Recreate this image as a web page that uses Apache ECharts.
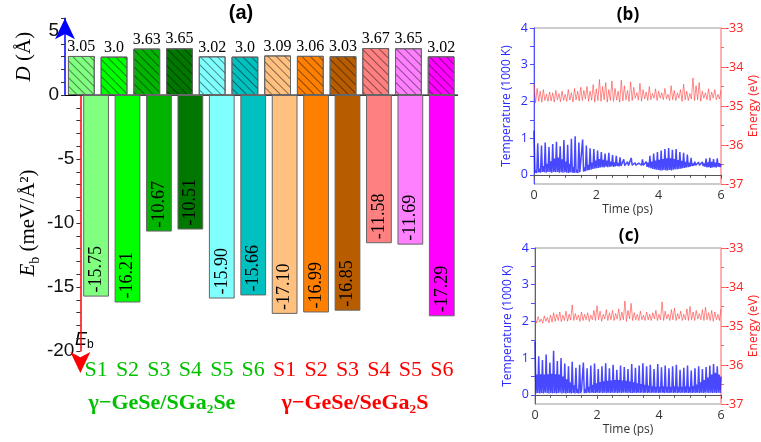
<!DOCTYPE html>
<html><head><meta charset="utf-8">
<script src="https://cdn.jsdelivr.net/npm/echarts@6/dist/echarts.min.js"></script>
<style>html,body{margin:0;padding:0;background:#fff}#c{width:761px;height:442px}</style>
</head><body><div id="c"></div>
<script>
// ---------- data ----------
const SAMPLES = ['S1','S2','S3','S4','S5','S6'];
const GROUPS = ['γ−GeSe/SGa₂Se','γ−GeSe/SeGa₂S'];
const GROUP_COLORS = ['#00c000','#ff0000'];
const D_VALUES = [3.05,3.0,3.63,3.65,3.02,3.0,3.09,3.06,3.03,3.67,3.65,3.02];
const EB_VALUES = [-15.75,-16.21,-10.67,-10.51,-15.90,-15.66,-17.10,-16.99,-16.85,-11.58,-11.69,-17.29];
const BAR_COLORS = ['#80ff80','#00ff00','#00b400','#007800','#80ffff','#00c0c0','#ffc080','#ff8000','#b85c00','#ff8080','#ff80ff','#ff00ff'];
const D_TICKS = [0,5];
const EB_TICKS = [-5,-10,-15,-20];
const TEMP_DT = 0.03; // ps between temperature samples
const ENER_DT = 0.05; // ps between energy samples
const TEMP_B = [
 1.20,0.06,0.12,0.05,0.86,0.07,0.17,0.06, 0.80,0.08,0.24,0.07,0.88,0.06,0.30,0.08,
 0.76,0.07,0.37,0.06,0.84,0.08,0.44,0.07, 0.90,0.08,0.47,0.06,0.78,0.07,0.42,0.06,
 0.95,0.07,0.36,0.06,0.82,0.05,0.30,0.07, 0.98,0.06,0.22,0.05,1.05,0.06,0.14,0.05,
 0.88,0.07,0.12,0.08,0.96,0.09,0.20,0.10, 0.80,0.12,0.27,0.13,0.72,0.14,0.33,0.16,
 0.70,0.17,0.39,0.18,0.66,0.19,0.43,0.20, 0.62,0.21,0.41,0.20,0.58,0.22,0.39,0.21,
 0.60,0.22,0.36,0.23,0.54,0.22,0.34,0.23, 0.52,0.24,0.32,0.23,0.48,0.24,0.30,0.25,
 0.42,0.25,0.29,0.26,0.36,0.25,0.30,0.26, 0.46,0.26,0.30,0.27,0.33,0.26,0.29,0.27,
 0.32,0.27,0.30,0.26,0.42,0.26,0.31,0.25, 0.36,0.22,0.33,0.20,0.52,0.18,0.36,0.16,
 0.58,0.15,0.39,0.14,0.62,0.13,0.41,0.12, 0.66,0.12,0.43,0.13,0.70,0.12,0.45,0.12,
 0.73,0.13,0.45,0.12,0.68,0.14,0.43,0.15, 0.70,0.15,0.40,0.16,0.62,0.17,0.38,0.18,
 0.60,0.19,0.35,0.20,0.55,0.21,0.33,0.22, 0.46,0.24,0.31,0.25,0.36,0.26,0.30,0.26,
 0.34,0.26,0.30,0.25,0.35,0.24,0.31,0.22, 0.44,0.20,0.34,0.21,0.46,0.19,0.35,0.20,
 0.43,0.21,0.33,0.20,0.45,0.22,0.32,0.21, 0.30];
const TEMP_C = [
 1.45,0.04,0.55,0.05,1.05,0.04,0.56,0.05, 0.95,0.04,0.55,0.06,1.10,0.05,0.56,0.04,
 0.88,0.05,0.57,0.04,1.20,0.05,0.56,0.04, 0.92,0.05,0.55,0.06,1.00,0.04,0.50,0.05,
 0.85,0.04,0.42,0.05,0.78,0.05,0.34,0.04, 0.90,0.05,0.26,0.04,0.74,0.05,0.16,0.04,
 0.82,0.05,0.11,0.06,0.88,0.05,0.16,0.05, 0.72,0.06,0.22,0.05,0.80,0.06,0.27,0.05,
 0.85,0.05,0.31,0.06,0.70,0.05,0.35,0.06, 0.78,0.05,0.37,0.06,0.86,0.05,0.38,0.06,
 0.72,0.05,0.39,0.06,0.82,0.05,0.40,0.06, 0.68,0.05,0.40,0.06,0.80,0.05,0.39,0.06,
 0.76,0.06,0.38,0.05,0.70,0.06,0.36,0.05, 0.84,0.05,0.34,0.06,0.74,0.05,0.31,0.06,
 0.80,0.05,0.29,0.06,0.86,0.05,0.27,0.06, 0.78,0.05,0.25,0.06,0.82,0.05,0.23,0.06,
 0.70,0.05,0.22,0.06,0.84,0.05,0.22,0.06, 0.75,0.06,0.23,0.05,0.80,0.06,0.22,0.05,
 0.72,0.05,0.22,0.06,0.78,0.05,0.23,0.06, 0.82,0.05,0.22,0.06,0.68,0.05,0.22,0.06,
 0.74,0.05,0.23,0.06,0.80,0.05,0.22,0.06, 0.66,0.05,0.24,0.06,0.72,0.05,0.28,0.06,
 0.78,0.05,0.34,0.06,0.70,0.05,0.40,0.06, 0.76,0.06,0.47,0.05,0.80,0.06,0.55,0.05,
 0.84,0.06,0.60,0.05,0.78,0.06,0.55,0.05, 0.50];
const ENER_B = [
 -34.42,-34.92,-34.55,-34.88,-34.62,-34.90,-34.58,-34.86,-34.70,-34.88,-34.64,
 -34.87,-34.66,-34.90,-34.60,-34.84,-34.68,-34.89,-34.62,-34.86,-34.70,
 -34.88,-34.58,-34.85,-34.66,-34.90,-34.55,-34.84,-34.62,-34.87,-34.52,
 -34.86,-34.60,-34.82,-34.50,-34.88,-34.62,-34.85,-34.45,-34.90,-34.56,
 -34.86,-34.32,-34.88,-34.50,-34.84,-34.40,-34.90,-34.58,-34.86,-34.36,
 -34.88,-34.55,-34.85,-34.62,-34.90,-34.34,-34.87,-34.48,-34.84,-34.60,
 -34.88,-34.38,-34.86,-34.52,-34.80,-34.66,-34.85,-34.42,-34.88,-34.58,
 -34.82,-34.64,-34.86,-34.50,-34.84,-34.68,-34.80,-34.56,-34.86,-34.62,
 -34.80,-34.66,-34.84,-34.55,-34.82,-34.70,-34.86,-34.48,-34.84,-34.60,
 -34.86,-34.66,-34.80,-34.58,-34.88,-34.44,-34.84,-34.62,-34.86,-34.68,
 -34.82,-34.28,-34.86,-34.48,-34.84,-34.40,-34.88,-34.62,-34.80,-34.66,
 -34.84,-34.56,-34.86,-34.64,-34.80,-34.58,-34.84,-34.70,-34.82,-34.60];
const ENER_C = [
 -34.80,-34.92,-34.76,-34.90,-34.82,-34.93,-34.74,-34.88,-34.78,-34.92,-34.72,
 -34.90,-34.66,-34.88,-34.70,-34.86,-34.64,-34.89,-34.72,-34.86,-34.62,
 -34.88,-34.70,-34.85,-34.46,-34.86,-34.68,-34.84,-34.72,-34.88,-34.64,
 -34.86,-34.70,-34.84,-34.66,-34.88,-34.72,-34.84,-34.60,-34.86,-34.48,
 -34.84,-34.62,-34.88,-34.70,-34.82,-34.58,-34.86,-34.66,-34.84,-34.60,
 -34.86,-34.68,-34.82,-34.56,-34.86,-34.64,-34.84,-34.36,-34.88,-34.60,
 -34.82,-34.42,-34.86,-34.66,-34.84,-34.70,-34.86,-34.62,-34.84,-34.72,
 -34.86,-34.64,-34.84,-34.70,-34.86,-34.66,-34.82,-34.60,-34.86,-34.70,
 -34.84,-34.38,-34.86,-34.62,-34.82,-34.70,-34.86,-34.58,-34.84,-34.54,
 -34.86,-34.68,-34.82,-34.62,-34.86,-34.70,-34.84,-34.56,-34.86,-34.50,
 -34.84,-34.64,-34.86,-34.60,-34.82,-34.68,-34.84,-34.58,-34.86,-34.52,
 -34.84,-34.66,-34.86,-34.60,-34.88,-34.64,-34.84,-34.70,-34.86,-34.56];
const TEMP_TICKS = [0,1,2,3,4];
const TEMP_MINOR = [0,0.5,1,1.5,2,2.5,3,3.5,4];

// ---------- build ----------
const CATS = [];
GROUPS.forEach((g, gi) => SAMPLES.forEach(s => CATS.push(gi + ':' + s)));
const SANS = 'Liberation Sans', SERIF = 'Liberation Serif', OS = 'Open Sans';
const fmtD = v => (Math.round(v * 100) % 10 === 0 ? v.toFixed(1) : v.toFixed(2));
const hatch = {symbol:'rect', symbolSize:1, dashArrayX:[1,0], dashArrayY:[1,4.5], rotation:Math.PI/4, color:'rgba(0,0,0,0.45)'};

function mdAxes(gi) {
  return {
    x: {type:'value', gridIndex:gi, min:0, max:6, interval:2,
        axisLine:{show:true, lineStyle:{color:'#555', width:1}},
        axisTick:{show:true, length:4, lineStyle:{color:'#555'}},
        minorTick:{show:true, splitNumber:4, length:3, lineStyle:{color:'#555'}},
        axisLabel:{fontFamily:OS, fontSize:12.5, color:'#333', margin:5},
        splitLine:{show:false},
        name:'Time (ps)', nameLocation:'middle', nameGap:20,
        nameTextStyle:{fontFamily:OS, fontSize:12, color:'#333'}},
    yl: {type:'value', gridIndex:gi, min:-0.25, max:4, position:'left',
        axisLine:{show:true, lineStyle:{color:'#5050ff', width:1}},
        axisTick:{show:true, length:4, customValues:TEMP_MINOR, lineStyle:{color:'#5050ff'}},
        axisLabel:{customValues:TEMP_TICKS, fontFamily:OS, fontSize:12.5, color:'#2a2aff', margin:6},
        splitLine:{show:false},
        name:'Temperature (1000 K)', nameLocation:'middle', nameGap:21, nameRotate:90,
        nameTextStyle:{fontFamily:OS, fontSize:12, color:'#2a2aff'}},
    yr: {type:'value', gridIndex:gi, min:-37, max:-33, interval:1, position:'right',
        axisLine:{show:true, lineStyle:{color:'#ffb0b0', width:2}},
        axisTick:{show:true, length:4, lineStyle:{color:'#ff6060'}},
        minorTick:{show:true, splitNumber:2, length:3, lineStyle:{color:'#ff6060'}},
        axisLabel:{fontFamily:OS, fontSize:12.5, color:'#ff2020', margin:4},
        splitLine:{show:false},
        name:'Energy (eV)', nameLocation:'middle', nameGap:27, nameRotate:90,
        nameTextStyle:{fontFamily:OS, fontSize:12, color:'#ff2020'}}
  };
}
const mdB = mdAxes(2), mdC = mdAxes(3);

const option = {
  animation:false,
  backgroundColor:'#fff',
  grid:[
    {left:65, top:18.2, width:392.5, height:76.8},
    {left:65, top:95, width:392.5, height:256},
    {left:534, top:28, width:188, height:156, show:true, borderColor:'#999', borderWidth:1},
    {left:535, top:248, width:188, height:156, show:true, borderColor:'#999', borderWidth:1}
  ],
  xAxis:[
    {type:'category', gridIndex:0, data:CATS, boundaryGap:true,
     axisLine:{show:true, lineStyle:{color:'#000', width:1.2}}, axisTick:{show:false}, axisLabel:{show:false}},
    {type:'category', gridIndex:1, data:CATS, boundaryGap:true,
     axisLine:{show:true, lineStyle:{color:'#555', width:1.5}},
     axisTick:{show:true, alignWithLabel:true, length:5, lineStyle:{color:'#555', width:1.2}},
     axisLabel:{fontFamily:SERIF, fontSize:22, margin:8,
       formatter: v => v.split(':')[1],
       color: v => GROUP_COLORS[+String(v).split(':')[0]]}},
    mdB.x, mdC.x
  ],
  yAxis:[
    {type:'value', gridIndex:0, min:0, max:6, interval:1,
     axisLine:{show:true, symbol:['none','arrow'], symbolSize:[15,21], lineStyle:{color:'#0000ff', width:1.5}},
     axisTick:{show:true, length:4, lineStyle:{color:'#333'}},
     axisLabel:{fontFamily:SANS, fontSize:19, color:'#111', margin:6,
       formatter: v => (D_TICKS.indexOf(v) >= 0 ? String(v) : '')},
     splitLine:{show:false},
     name:'{i|D} (Å)', nameLocation:'middle', nameGap:30, nameRotate:90,
     nameTextStyle:{fontFamily:SERIF, fontSize:21, color:'#000',
       rich:{i:{fontFamily:SERIF, fontSize:21, fontStyle:'italic', color:'#000'}}}},
    {type:'value', gridIndex:1, min:-20, max:0, interval:1,
     axisLine:{show:true, symbol:['arrow','none'], symbolSize:[15,21], symbolOffset:[-22,0], lineStyle:{color:'#ff0000', width:1.5}},
     axisTick:{show:true, length:4, lineStyle:{color:'#333'}},
     axisLabel:{fontFamily:SANS, fontSize:19, color:'#111', margin:6,
       formatter: v => (EB_TICKS.indexOf(v) >= 0 ? String(v) : '')},
     splitLine:{show:false},
     name:'{i|E}{s|b} (meV/Å²)', nameLocation:'middle', nameGap:38, nameRotate:90,
     nameTextStyle:{fontFamily:SERIF, fontSize:21, color:'#000', lineHeight:28,
       rich:{i:{fontFamily:SERIF, fontSize:21, fontStyle:'italic', color:'#000', lineHeight:28},
             s:{fontFamily:SERIF, fontSize:14, color:'#000', verticalAlign:'bottom', lineHeight:28}}}},
    mdB.yl, mdB.yr, mdC.yl, mdC.yr
  ],
  series:[
    {type:'bar', xAxisIndex:0, yAxisIndex:0, barWidth:'82%',
     data: D_VALUES.map((v,i)=>({value:v, itemStyle:{color:BAR_COLORS[i], borderColor:'#666', borderWidth:1, decal:hatch}})),
     label:{show:true, position:'top', distance:1, formatter:p=>fmtD(p.value), fontFamily:SERIF, fontSize:16, color:'#000'}},
    {type:'bar', xAxisIndex:1, yAxisIndex:1, barWidth:'82%',
     data: EB_VALUES.map((v,i)=>({value:v, itemStyle:{color:BAR_COLORS[i], borderColor:'#666', borderWidth:1}})),
     label:{show:true, position:'insideBottom', rotate:90, align:'left', verticalAlign:'middle', distance:4,
       formatter:p=>p.value.toFixed(2), fontFamily:SERIF, fontSize:18, color:'#000'}},
    {type:'line', xAxisIndex:2, yAxisIndex:2, showSymbol:false, symbol:'none',
     data: TEMP_B.map((v,i)=>[i*TEMP_DT, v]), lineStyle:{color:'#1515ff', width:1.5, opacity:0.78}},
    {type:'line', xAxisIndex:2, yAxisIndex:3, showSymbol:false, symbol:'none',
     data: ENER_B.map((v,i)=>[i*ENER_DT, v]), lineStyle:{color:'#ff3a3a', width:0.8, opacity:0.75}},
    {type:'line', xAxisIndex:3, yAxisIndex:4, showSymbol:false, symbol:'none',
     data: TEMP_C.map((v,i)=>[i*TEMP_DT, v]), lineStyle:{color:'#1515ff', width:1.5, opacity:0.78}},
    {type:'line', xAxisIndex:3, yAxisIndex:5, showSymbol:false, symbol:'none',
     data: ENER_C.map((v,i)=>[i*ENER_DT, v]), lineStyle:{color:'#ff3a3a', width:0.8, opacity:0.75}}
  ],
  graphic:[
    {type:'text', x:241, y:13, style:{text:'(a)', fontFamily:SANS, fontWeight:'bold', fontSize:20, fill:'#000', align:'center', verticalAlign:'middle', textAlign:'center', textVerticalAlign:'middle'}},
    {type:'text', x:628, y:15, style:{text:'(b)', fontFamily:OS, fontWeight:'bold', fontSize:17, fill:'#000', align:'center', verticalAlign:'middle', textAlign:'center', textVerticalAlign:'middle'}},
    {type:'text', x:629, y:236, style:{text:'(c)', fontFamily:OS, fontWeight:'bold', fontSize:17, fill:'#000', align:'center', verticalAlign:'middle', textAlign:'center', textVerticalAlign:'middle'}},
    {type:'text', x:75, y:340, style:{text:'{i|E}{s|b}', fill:'#000', align:'left', verticalAlign:'middle', textAlign:'left', textVerticalAlign:'middle',
      rich:{i:{fontFamily:SANS, fontSize:18, fontStyle:'italic', fill:'#000', lineHeight:22},
            s:{fontFamily:SANS, fontSize:12, fill:'#000', verticalAlign:'bottom', lineHeight:22}}}},
    {type:'text', x:162, y:403, style:{text:GROUPS[0], fontFamily:SERIF, fontWeight:'bold', fontSize:22, fill:GROUP_COLORS[0], align:'center', verticalAlign:'middle', textAlign:'center', textVerticalAlign:'middle'}},
    {type:'text', x:355, y:403, style:{text:GROUPS[1], fontFamily:SERIF, fontWeight:'bold', fontSize:22, fill:GROUP_COLORS[1], align:'center', verticalAlign:'middle', textAlign:'center', textVerticalAlign:'middle'}}
  ]
};
const chart = echarts.init(document.getElementById('c'), null, {renderer:'canvas'});
chart.setOption(option);
</script>
</body></html>
